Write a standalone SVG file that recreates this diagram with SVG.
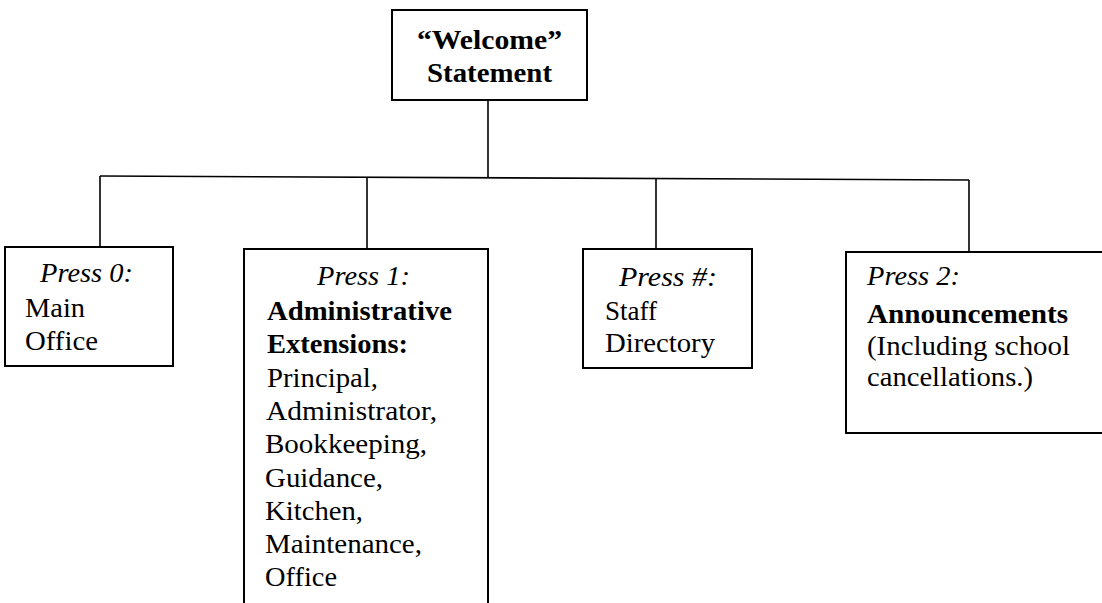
<svg xmlns="http://www.w3.org/2000/svg" width="1102" height="603" viewBox="0 0 1102 603">
<style>
.box{fill:#fff;stroke:#000;stroke-width:2}
.ln{stroke:#000;stroke-width:1.6;fill:none}
text{font-family:"Liberation Serif","Times New Roman",serif;font-size:27px;fill:#000}
.b{font-weight:bold}
.i{font-style:italic}
</style>
<rect width="1102" height="603" fill="#fff"/>
<g id="connectors">
<line class="ln" x1="488" y1="100" x2="488" y2="178"/>
<line class="ln" x1="100" y1="176" x2="969" y2="180"/>
<line class="ln" x1="100" y1="176" x2="100" y2="247"/>
<line class="ln" x1="367" y1="177" x2="367" y2="249"/>
<line class="ln" x1="656" y1="179" x2="656" y2="249"/>
<line class="ln" x1="969" y1="180" x2="969" y2="252"/>
</g>
<g id="welcome">
<rect class="box" x="392" y="10" width="195" height="90"/>
<text class="b" x="417" y="49" textLength="145" lengthAdjust="spacingAndGlyphs">“Welcome”</text>
<text class="b" x="427" y="82" textLength="125" lengthAdjust="spacingAndGlyphs">Statement</text>
</g>
<g id="press0">
<rect class="box" x="5" y="247" width="168" height="119"/>
<text class="i" x="40" y="282" textLength="93" lengthAdjust="spacingAndGlyphs">Press 0:</text>
<text x="25" y="317" textLength="60" lengthAdjust="spacingAndGlyphs">Main</text>
<text x="25" y="350" textLength="73" lengthAdjust="spacingAndGlyphs">Office</text>
</g>
<g id="press1">
<rect class="box" x="244" y="249" width="244" height="370"/>
<text class="i" x="317" y="285" textLength="93" lengthAdjust="spacingAndGlyphs">Press 1:</text>
<text class="b" x="267" y="320" textLength="185" lengthAdjust="spacingAndGlyphs">Administrative</text>
<text class="b" x="267" y="353" textLength="141" lengthAdjust="spacingAndGlyphs">Extensions:</text>
<text x="267" y="387" textLength="111" lengthAdjust="spacingAndGlyphs">Principal,</text>
<text x="266" y="420" textLength="171" lengthAdjust="spacingAndGlyphs">Administrator,</text>
<text x="265" y="453" textLength="162" lengthAdjust="spacingAndGlyphs">Bookkeeping,</text>
<text x="265" y="487" textLength="118" lengthAdjust="spacingAndGlyphs">Guidance,</text>
<text x="265" y="520" textLength="98" lengthAdjust="spacingAndGlyphs">Kitchen,</text>
<text x="265" y="553" textLength="157" lengthAdjust="spacingAndGlyphs">Maintenance,</text>
<text x="265" y="586" textLength="72" lengthAdjust="spacingAndGlyphs">Office</text>
</g>
<g id="pressHash">
<rect class="box" x="583" y="249" width="169" height="119"/>
<text class="i" x="619" y="286" textLength="98" lengthAdjust="spacingAndGlyphs">Press #:</text>
<text x="605" y="320" textLength="52" lengthAdjust="spacingAndGlyphs">Staff</text>
<text x="605" y="352" textLength="110" lengthAdjust="spacingAndGlyphs">Directory</text>
</g>
<g id="press2">
<rect class="box" x="846" y="252" width="270" height="181"/>
<text class="i" x="867" y="285" textLength="93" lengthAdjust="spacingAndGlyphs">Press 2:</text>
<text class="b" x="867" y="323" textLength="201" lengthAdjust="spacingAndGlyphs">Announcements</text>
<text x="867" y="355" textLength="203" lengthAdjust="spacingAndGlyphs">(Including school</text>
<text x="867" y="386" textLength="166" lengthAdjust="spacingAndGlyphs">cancellations.)</text>
</g>
</svg>
